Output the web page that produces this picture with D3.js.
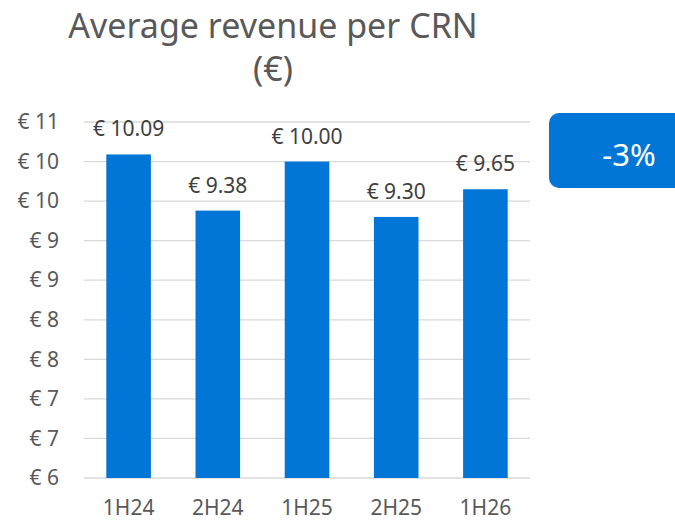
<!DOCTYPE html>
<html>
<head>
<meta charset="utf-8">
<script src="https://cdn.jsdelivr.net/npm/d3@7"></script>
<style>
  body { margin: 0; background: #fff; }
  svg { font-family: "Noto Sans", "Open Sans", sans-serif; }
</style>
</head>
<body>
<div id="vis"><svg></svg></div>
<script>
// data
const periods = ["1H24", "2H24", "1H25", "2H25", "1H26"];
const revenue = [10.09, 9.38, 10.00, 9.30, 9.65];
const yTicks = [6, 6.5, 7, 7.5, 8, 8.5, 9, 9.5, 10, 10.5];
const changeLabel = "-3%";

const width = 675, height = 522;
const grey = "#595959";
const blue = "#0176d6";
const font = "'Noto Sans', 'Open Sans', sans-serif";

const svg = d3.select("#vis").select("svg")
  .attr("width", width)
  .attr("height", height);

// title
svg.append("text")
  .attr("x", 273).attr("y", 38)
  .attr("text-anchor", "middle")
  .attr("fill", grey)
  .attr("font-size", 34)
  .text("Average revenue per CRN");
svg.append("text")
  .attr("x", 273).attr("y", 81)
  .attr("text-anchor", "middle")
  .attr("fill", grey)
  .attr("font-size", 34)
  .text("(€)");

const x = d3.scaleBand()
  .domain(periods)
  .range([84, 530])
  .paddingInner(0.5)
  .paddingOuter(0.25);

const y = d3.scaleLinear()
  .domain([6, 10.5])
  .range([478, 122]);

// gridlines
svg.append("g")
  .selectAll("line")
  .data(yTicks)
  .join("line")
  .attr("x1", 84).attr("x2", 530)
  .attr("y1", d => y(d)).attr("y2", d => y(d))
  .attr("stroke", "#d9d9d9")
  .attr("stroke-width", 1.3);

// y axis
const yAxis = svg.append("g")
  .attr("transform", "translate(59,0)")
  .call(d3.axisLeft(y).tickValues(yTicks).tickSize(0).tickPadding(0)
    .tickFormat(d => "€ " + Math.round(d)));
yAxis.select(".domain").remove();
yAxis.selectAll("text")
  .attr("fill", grey)
  .attr("font-size", 21)
  .attr("font-family", font);

// bars
svg.append("g")
  .selectAll("rect")
  .data(revenue)
  .join("rect")
  .attr("x", (d, i) => x(periods[i]))
  .attr("width", x.bandwidth())
  .attr("y", d => y(d))
  .attr("height", d => y(6) - y(d))
  .attr("fill", blue);

// value labels
svg.append("g")
  .selectAll("text")
  .data(revenue)
  .join("text")
  .attr("x", (d, i) => x(periods[i]) + x.bandwidth() / 2)
  .attr("y", d => y(d) - 18)
  .attr("text-anchor", "middle")
  .attr("fill", "#404040")
  .attr("font-size", 21)
  .text(d => "€ " + d3.format(".2f")(d));

// x axis
const xAxis = svg.append("g")
  .attr("transform", "translate(0,515)")
  .call(d3.axisBottom(x).tickSize(0).tickPadding(0));
xAxis.select(".domain").remove();
xAxis.selectAll("text")
  .attr("fill", grey)
  .attr("font-size", 21)
  .attr("dy", 0)
  .attr("font-family", font);

// change badge
svg.append("rect")
  .attr("x", 549).attr("y", 113)
  .attr("width", 140).attr("height", 75)
  .attr("rx", 10)
  .attr("fill", blue);
svg.append("text")
  .attr("x", 629).attr("y", 166)
  .attr("text-anchor", "middle")
  .attr("fill", "#fff")
  .attr("font-size", 31)
  .text(changeLabel);
</script>
</body>
</html>
